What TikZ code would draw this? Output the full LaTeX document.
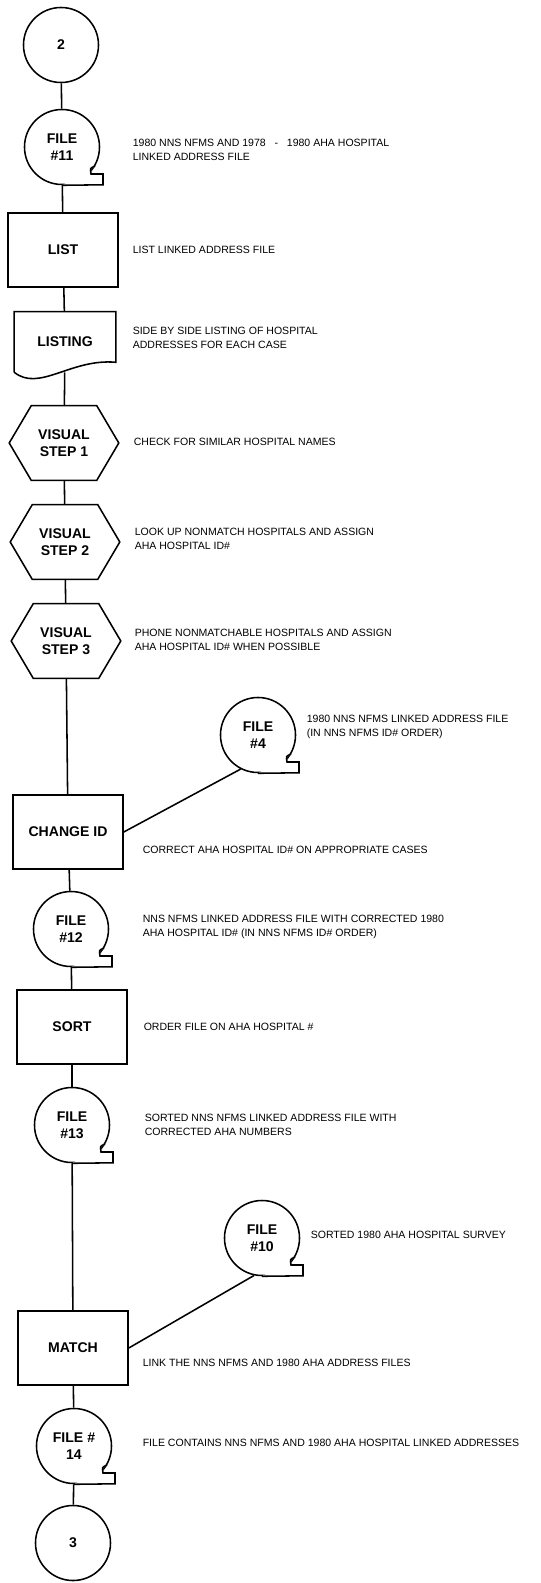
\documentclass[tikz,border=0pt]{standalone}
\usepackage{fontspec}
\setmainfont{Liberation Sans}
\usetikzlibrary{calc}

\begin{document}
\begin{tikzpicture}[x=0.025cm,y=-0.025cm,line width=1.1pt,
  every node/.style={inner sep=0pt},
  lbl/.style={align=center,font=\bfseries\fontsize{10}{12}\selectfont},
  connector/.style={lbl,circle,draw,minimum size=1.875cm},
  filebox/.style={lbl,circle,draw,minimum size=1.875cm},
  procbox/.style={lbl,rectangle,draw,minimum width=2.75cm,minimum height=1.85cm},
  hexbox/.style={lbl,rectangle,minimum width=2.7cm,minimum height=1.825cm},
  docbox/.style={lbl,rectangle,minimum width=2.5cm,minimum height=1.475cm},
  note/.style={anchor=west,align=left,font=\fontsize{7.5}{9.5}\selectfont}]
  \useasboundingbox (0,0) rectangle (540,1583);

  \node[connector] (c2)      at (61,45)    {2};
  \node[filebox]   (f11)     at (62,147)   {FILE\\\#11};
  \node[procbox]   (list)    at (63,250)   {LIST};
  \node[docbox]    (listing) at (65,342)   {LISTING};
  \node[hexbox]    (vis1)    at (64,443)   {VISUAL\\STEP 1};
  \node[hexbox]    (vis2)    at (65,542)   {VISUAL\\STEP 2};
  \node[hexbox]    (vis3)    at (66,641)   {VISUAL\\STEP 3};
  \node[filebox]   (f4)      at (258,735)  {FILE\\\#4};
  \node[procbox]   (change)  at (68,832)   {CHANGE ID};
  \node[filebox]   (f12)     at (71,929)   {FILE\\\#12};
  \node[procbox]   (sort)    at (72,1027)  {SORT};
  \node[filebox]   (f13)     at (72,1125)  {FILE\\\#13};
  \node[filebox]   (f10)     at (262,1238) {FILE\\\#10};
  \node[procbox]   (match)   at (73,1348)  {MATCH};
  \node[filebox]   (f14)     at (74,1446)  {FILE \#\\14};
  \node[connector] (c3)      at (73,1543)  {3};

  \node[note] (n11)      at (132,150)  {1980 NNS NFMS AND 1978 ~~-~~ 1980 AHA HOSPITAL\\LINKED ADDRESS FILE};
  \node[note] (nlist)    at (132,250)  {LIST LINKED ADDRESS FILE};
  \node[note] (nlisting) at (132,338)  {SIDE BY SIDE LISTING OF HOSPITAL\\ADDRESSES FOR EACH CASE};
  \node[note] (nvis1)    at (133,442)  {CHECK FOR SIMILAR HOSPITAL NAMES};
  \node[note] (nvis2)    at (134,539)  {LOOK UP NONMATCH HOSPITALS AND ASSIGN\\AHA HOSPITAL ID\#};
  \node[note] (nvis3)    at (134,640)  {PHONE NONMATCHABLE HOSPITALS AND ASSIGN\\AHA HOSPITAL ID\# WHEN POSSIBLE};
  \node[note] (n4)       at (306,727)  {1980 NNS NFMS LINKED ADDRESS FILE\\(IN NNS NFMS ID\# ORDER)};
  \node[note] (nchange)  at (142,850)  {CORRECT AHA HOSPITAL ID\# ON APPROPRIATE CASES};
  \node[note] (n12)      at (142,927)  {NNS NFMS LINKED ADDRESS FILE WITH CORRECTED 1980\\AHA HOSPITAL ID\# (IN NNS NFMS ID\# ORDER)};
  \node[note] (nsort)    at (143,1027) {ORDER FILE ON AHA HOSPITAL \#};
  \node[note] (n13)      at (144,1125) {SORTED NNS NFMS LINKED ADDRESS FILE WITH\\CORRECTED AHA NUMBERS};
  \node[note] (n10)      at (310,1235) {SORTED 1980 AHA HOSPITAL SURVEY};
  \node[note] (nmatch)   at (142,1363) {LINK THE NNS NFMS AND 1980 AHA ADDRESS FILES};
  \node[note] (n14)      at (142,1443) {FILE CONTAINS NNS NFMS AND 1980 AHA HOSPITAL LINKED ADDRESSES};

  \foreach \h in {vis1,vis2,vis3}
    \draw (\h.west) -- ($(\h.north west)+(22,0)$) -- ($(\h.north east)+(-22,0)$) -- (\h.east)
      -- ($(\h.south east)+(-22,0)$) -- ($(\h.south west)+(22,0)$) -- cycle;

  \draw (listing.south west) -- (listing.north west) -- (listing.north east)
    -- ($(listing.south east)+(0,-10)$) .. controls +(-45,-4) and +(25,20) .. (listing.south west);

  \foreach \f in {f11,f4,f12,f13,f10,f14} {
    \fill[white] (\f.-30) -- ($(\f.center)+(29,22)$) -- ($(\f.center)+(29,27)$) -- ($(\f.center)+(41,27)$)
      -- ($(\f.center)+(41,38)$) -- (\f.south) -- cycle;
    \draw (\f.-30) .. controls ($(\f.center)+(28,21)$) .. ($(\f.center)+(29,27)$) -- ($(\f.center)+(41,27)$)
      -- ($(\f.center)+(41,37.8)$) -- (\f.south);
  }

  \draw (c2) -- (f11);
  \draw (f11) -- (list);
  \draw (list) -- (listing);
  \draw (listing) -- (vis1);
  \draw (vis1) -- (vis2);
  \draw (vis2) -- (vis3);
  \draw (vis3) -- (change);
  \draw (f4.-117) -- (change.east);
  \draw (change) -- (f12);
  \draw (f12) -- (sort);
  \draw (sort) -- (f13);
  \draw (f13) -- (match);
  \draw (f10.-102) -- (match.east);
  \draw (match) -- (f14);
  \draw (f14) -- (c3);
\end{tikzpicture}
\end{document}
